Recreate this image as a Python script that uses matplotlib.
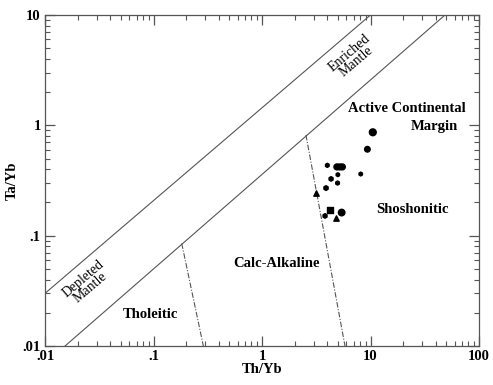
import matplotlib.pyplot as plt
from matplotlib.ticker import LogLocator, FixedFormatter, FixedLocator, NullFormatter

plt.rcParams['font.family'] = ['Liberation Serif', 'DejaVu Serif']
plt.rcParams['font.weight'] = 'bold'

# sample data (Th/Yb, Ta/Yb)
circ_th = [10.5, 9.36, 5.42, 4.9, 5.2, 5.5]
circ_ta = [0.865, 0.607, 0.162, 0.42, 0.42, 0.42]
circ_sz = [24, 16, 22, 18, 18, 18]

small_th = [8.13, 4.0, 5.0, 4.33, 4.97, 3.89, 3.81]
small_ta = [0.362, 0.434, 0.357, 0.327, 0.30, 0.270, 0.151]
small_sz = [8, 9, 8, 11, 9, 12, 11]

tri_th = [3.15, 4.81]
tri_ta = [0.245, 0.144]

sq_th = [4.24]
sq_ta = [0.171]

# mantle array boundaries
upper_x = [0.01, 10]
upper_y = [0.03, 10]
lower_x = [0.0153, 48.6]
lower_y = [0.01, 10]

# field boundaries (dash-dot)
thol_x = [0.182, 0.288]
thol_y = [0.085, 0.01]
shos_x = [2.54, 5.82]
shos_y = [0.82, 0.01]

fig = plt.figure(figsize=(4.93, 3.85), dpi=100)
ax = fig.add_axes([0.0913, 0.1013, 0.8803, 0.8597])
ax.set_xscale('log')
ax.set_yscale('log')
ax.set_xlim(0.01, 100)
ax.set_ylim(0.01, 10)

lc = '#555555'
ax.plot(upper_x, upper_y, color=lc, lw=0.8)
ax.plot(lower_x, lower_y, color=lc, lw=0.8)
ax.plot(thol_x, thol_y, color=lc, lw=0.8, ls=(0, (5, 1.5, 1, 1.5)))
ax.plot(shos_x, shos_y, color=lc, lw=0.8, ls=(0, (5, 1.5, 1, 1.5)))

ax.scatter(circ_th, circ_ta, s=circ_sz, c='black', marker='o', zorder=3)
ax.scatter(small_th, small_ta, s=small_sz, c='black', marker='h', zorder=3)
ax.scatter(tri_th, tri_ta, s=15, c='black', marker='^', zorder=3)
ax.scatter(sq_th, sq_ta, s=16, c='black', marker='s', zorder=3)

fs = 10.5
ax.text(21.7, 1.41, 'Active Continental', fontsize=fs, ha='center', va='center')
ax.text(38.5, 0.97, 'Margin', fontsize=fs, ha='center', va='center')
ax.text(24.1, 0.171, 'Shoshonitic', fontsize=fs, ha='center', va='center')
ax.text(1.37, 0.0565, 'Calc-Alkaline', fontsize=fs, ha='center', va='center')
ax.text(0.093, 0.0195, 'Tholeitic', fontsize=fs, ha='center', va='center')
ax.text(6.9, 4.17, 'Enriched\nMantle', fontsize=10, ha='center', va='center',
        rotation=40.5, linespacing=0.8, fontweight='normal')
ax.text(0.0244, 0.0372, 'Depleted\nMantle', fontsize=10, ha='center', va='center',
        rotation=40.5, linespacing=0.8, fontweight='normal')

for sp in ax.spines.values():
    sp.set_color(lc)
    sp.set_linewidth(0.9)

ax.xaxis.set_major_locator(FixedLocator([0.01, 0.1, 1, 10, 100]))
ax.xaxis.set_major_formatter(FixedFormatter(['.01', '.1', '1', '10', '100']))
ax.yaxis.set_major_locator(FixedLocator([0.01, 0.1, 1, 10]))
ax.yaxis.set_major_formatter(FixedFormatter(['.01', '.1', '1', '10']))
for a in (ax.xaxis, ax.yaxis):
    a.set_minor_locator(LogLocator(base=10, subs=range(2, 10)))
    a.set_minor_formatter(NullFormatter())

ax.tick_params(which='both', direction='in', top=True, right=True, color=lc,
               labelsize=10.5, pad=3)
ax.tick_params(which='major', length=7, width=0.9)
ax.tick_params(which='minor', length=3.5, width=0.8)

ax.set_xlabel('Th/Yb', fontsize=10.5, fontweight='bold', labelpad=0)
ax.set_ylabel('Ta/Yb', fontsize=10.5, fontweight='bold', labelpad=3)

fig.savefig('out.png', dpi=100)
